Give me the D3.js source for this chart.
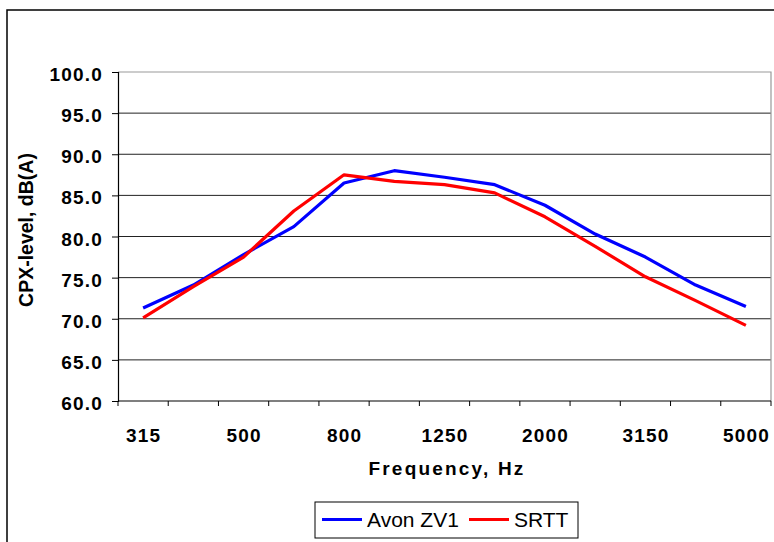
<!DOCTYPE html>
<html>
<head>
<meta charset="utf-8">
<script src="https://cdn.jsdelivr.net/npm/d3@7/dist/d3.min.js"></script>
<style>
  html, body { margin: 0; padding: 0; background: #fff; }
  svg { display: block; font-family: "Liberation Sans", Arial, sans-serif; }
</style>
</head>
<body>
<svg id="chart" width="774" height="542"></svg>
<script>
// One-third octave band centre frequencies, Hz
const frequencies = ["315", "400", "500", "630", "800", "1000", "1250", "1600", "2000", "2500", "3150", "4000", "5000"];
// Labelled bands on the x axis
const xTickLabels = ["315", "500", "800", "1250", "2000", "3150", "5000"];
// CPX levels, dB(A)
const avonZV1 = [71.3, 74.1, 77.8, 81.2, 86.5, 88.0, 87.2, 86.3, 83.8, 80.3, 77.5, 74.1, 71.5];
const srtt    = [70.1, 73.9, 77.5, 83.1, 87.5, 86.7, 86.3, 85.3, 82.4, 78.8, 75.1, 72.2, 69.2];
const yTicks = [60, 65, 70, 75, 80, 85, 90, 95, 100];

const seriesList = [
  { name: "Avon ZV1", values: avonZV1, color: "#0000ff" },
  { name: "SRTT", values: srtt, color: "#ff0000" }
];

const FONT = "Liberation Sans, Arial, sans-serif";
const svg = d3.select("#chart");
const plot = { left: 118, right: 771, top: 72, bottom: 401 };

// Outer chart frame
svg.append("rect")
  .attr("x", 7).attr("y", 10)
  .attr("width", 820).attr("height", 620)
  .attr("fill", "#fff").attr("stroke", "#000").attr("stroke-width", 1.5);

const x = d3.scaleBand().domain(frequencies).range([plot.left, plot.right]).padding(0);
const y = d3.scaleLinear().domain([60, 100]).range([plot.bottom, plot.top]);

// Horizontal gridlines
svg.append("g")
  .selectAll("line")
  .data(yTicks.filter(v => v > 60 && v < 100))
  .join("line")
  .attr("x1", plot.left).attr("x2", plot.right)
  .attr("y1", d => y(d)).attr("y2", d => y(d))
  .attr("stroke", "#222").attr("stroke-width", 1);

// Plot area border (top and right)
svg.append("path")
  .attr("d", `M${plot.left},${plot.top}H${plot.right}V${plot.bottom}`)
  .attr("fill", "none").attr("stroke", "#999").attr("stroke-width", 1.2);

// Y axis
const yAxis = svg.append("g")
  .attr("transform", `translate(${plot.left},0)`)
  .call(d3.axisLeft(y).tickValues(yTicks).tickSize(6).tickPadding(9).tickFormat(d3.format(".1f")));
yAxis.select(".domain").attr("stroke", "#000").attr("stroke-width", 1.2);
yAxis.selectAll(".tick line").attr("stroke", "#000");
yAxis.selectAll(".tick text")
  .attr("font-size", 19).attr("font-weight", "bold").attr("fill", "#000")
  .attr("letter-spacing", 1.2)
  .attr("dy", "0.45em")
  .attr("font-family", FONT);

// X axis: ticks on band boundaries, labels under every other band
const boundaries = frequencies.map(f => x(f)).concat([plot.right]);
const xAxis = svg.append("g");
xAxis.append("line")
  .attr("x1", plot.left).attr("x2", plot.right)
  .attr("y1", plot.bottom).attr("y2", plot.bottom)
  .attr("stroke", "#000").attr("stroke-width", 1.2);
xAxis.selectAll("line.tick")
  .data(boundaries)
  .join("line")
  .attr("class", "tick")
  .attr("x1", d => d).attr("x2", d => d)
  .attr("y1", plot.bottom).attr("y2", plot.bottom + 5)
  .attr("stroke", "#000");
xAxis.selectAll("text")
  .data(xTickLabels)
  .join("text")
  .attr("x", d => x(d) + x.bandwidth() / 2 + 0.6)
  .attr("y", 441.5)
  .attr("text-anchor", "middle")
  .attr("font-size", 19).attr("font-weight", "bold")
  .attr("letter-spacing", 1.2)
  .text(d => d);

// Axis titles
svg.append("text")
  .attr("x", 447).attr("y", 475)
  .attr("text-anchor", "middle")
  .attr("font-size", 19).attr("font-weight", "bold")
  .attr("letter-spacing", 2.2)
  .text("Frequency, Hz");

svg.append("text")
  .attr("transform", `translate(33,230) rotate(-90)`)
  .attr("text-anchor", "middle")
  .attr("font-size", 19.5).attr("font-weight", "bold")
  .text("CPX-level, dB(A)");

// Series lines
const line = d3.line()
  .x((d, i) => x(frequencies[i]) + x.bandwidth() / 2)
  .y(d => y(d));

svg.append("g")
  .selectAll("path")
  .data(seriesList)
  .join("path")
  .attr("d", d => line(d.values))
  .attr("fill", "none")
  .attr("stroke", d => d.color)
  .attr("stroke-width", 3.2)
  .attr("stroke-linejoin", "round");

// Legend
const legend = svg.append("g");
legend.append("rect")
  .attr("x", 315).attr("y", 502)
  .attr("width", 263).attr("height", 36)
  .attr("fill", "#fff").attr("stroke", "#000").attr("stroke-width", 1);
const legendX = [322, 469];
seriesList.forEach((s, i) => {
  legend.append("line")
    .attr("x1", legendX[i]).attr("x2", legendX[i] + 40)
    .attr("y1", 519.5).attr("y2", 519.5)
    .attr("stroke", s.color).attr("stroke-width", 3);
  legend.append("text")
    .attr("x", legendX[i] + 45).attr("y", 527)
    .attr("font-size", 21)
    .text(s.name);
});
</script>
</body>
</html>
